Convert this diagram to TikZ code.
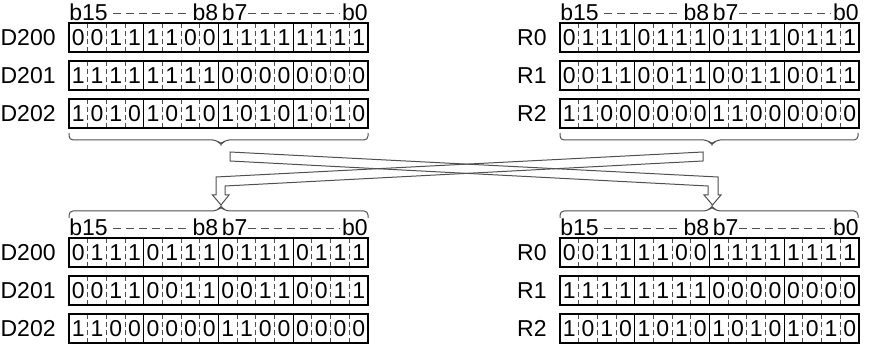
\documentclass[tikz,border=0pt]{standalone}
\usepackage{fontspec}
\setmainfont{Liberation Sans}
\usetikzlibrary{calc}
\definecolor{wordgray}{RGB}{80,80,80}
\tikzset{
  regbox/.style={draw, line width=0.7pt},
  grpsep/.style={line width=0.5pt},
  bitsep/.style={wordgray, line width=0.45pt, dash pattern=on 2.5pt off 1.5pt},
  bitval/.style={inner sep=0pt, font=\fontsize{11.5}{13}\selectfont},
  regname/.style={inner sep=0pt, font=\fontsize{11.5}{13}\selectfont},
  hdr/.style={inner sep=0pt, font=\fontsize{11.5}{13}\selectfont},
  hdrdash/.style={wordgray, line width=0.45pt, dash pattern=on 4pt off 2.5pt},
  brace/.style={wordgray, line width=0.5pt, rounded corners=2pt},
  hollow/.style={wordgray, line width=0.5pt, line join=miter}
}
\def\cellw{18.6875}
% one 16-bit word: name, left x, top y, label, bits
\newcommand{\wordrow}[5]{%
  \node[regname, anchor=east] (#1) at ({#2-13},{#3+14.5}) {#4};
  \foreach \k in {1,2,3,5,6,7,9,10,11,13,14,15}
    \draw[bitsep] ({#2+\k*\cellw},#3) -- ++(0,29);
  \foreach \k in {4,8,12}
    \draw[grpsep] ({#2+\k*\cellw},#3) -- ++(0,29);
  \draw[regbox] (#2,#3) rectangle ++(299,29);
  \foreach \b [count=\k from 0] in {#5}
    \node[bitval] (#1-\k) at ({#2+(\k+0.5)*\cellw},{#3+15}) {\b};
}
% bit numbers above a word: prefix, left x, baseline y
\newcommand{\bithead}[3]{%
  \node[hdr, anchor=base west] (#1-b15) at (#2,#3) {b15};
  \node[hdr, anchor=base east] (#1-b8) at ({#2+149.5},#3) {b8};
  \node[hdr, anchor=base west] (#1-b7) at ({#2+152.5},#3) {b7};
  \node[hdr, anchor=base east] (#1-b0) at ({#2+299},#3) {b0};
  \draw[hdrdash] ($(#1-b15.base east)+(5,-8)$) -- ($(#1-b8.base west)+(-2,-8)$);
  \draw[hdrdash] ($(#1-b7.base east)+(0,-8)$) -- ($(#1-b0.base west)+(-2,-8)$);
}

\begin{document}
\begin{tikzpicture}[x=0.5pt, y=-0.5pt]
  \useasboundingbox (0,0) rectangle (869,352);

  % Before: D200-D202
  \bithead{tl}{69}{21}
  \wordrow{tlA}{69}{23}{D200}{0,0,1,1,1,1,0,0,1,1,1,1,1,1,1,1}
  \wordrow{tlB}{69}{61}{D201}{1,1,1,1,1,1,1,1,0,0,0,0,0,0,0,0}
  \wordrow{tlC}{69}{99}{D202}{1,0,1,0,1,0,1,0,1,0,1,0,1,0,1,0}

  % Before: R0-R2
  \bithead{tr}{560}{21}
  \wordrow{trA}{560}{23}{R0}{0,1,1,1,0,1,1,1,0,1,1,1,0,1,1,1}
  \wordrow{trB}{560}{61}{R1}{0,0,1,1,0,0,1,1,0,0,1,1,0,0,1,1}
  \wordrow{trC}{560}{99}{R2}{1,1,0,0,0,0,0,0,1,1,0,0,0,0,0,0}

  % Braces under the upper blocks
  \draw[brace] (69,133) -- (69,140) -- (217,140) -- (221,145) -- (225,140) -- (368,140) -- (368,133);
  \draw[brace] (560,133) -- (560,140) -- (708,140) -- (712,145) -- (716,140) -- (858,140) -- (858,133);

  % Exchange arrows
  \draw[hollow] (230,152) -- (718,177) -- (718,195) -- (721,195) -- (712.5,205)
    -- (704,195) -- (708,195) -- (708,186) -- (230,161) -- cycle;
  \draw[hollow] (703,152) -- (216,177) -- (216,195) -- (212.5,195) -- (221,205)
    -- (229,195) -- (225,195) -- (225,186) -- (703,161) -- cycle;

  % Braces over the lower blocks
  \draw[brace] (69,218) -- (69,211) -- (217,211) -- (221,206) -- (225,211) -- (368,211) -- (368,218);
  \draw[brace] (560,218) -- (560,211) -- (708,211) -- (712,206) -- (716,211) -- (858,211) -- (858,218);

  % After: D200-D202
  \bithead{bl}{69}{236}
  \wordrow{blA}{69}{238}{D200}{0,1,1,1,0,1,1,1,0,1,1,1,0,1,1,1}
  \wordrow{blB}{69}{276}{D201}{0,0,1,1,0,0,1,1,0,0,1,1,0,0,1,1}
  \wordrow{blC}{69}{314}{D202}{1,1,0,0,0,0,0,0,1,1,0,0,0,0,0,0}

  % After: R0-R2
  \bithead{br}{560}{236}
  \wordrow{brA}{560}{238}{R0}{0,0,1,1,1,1,0,0,1,1,1,1,1,1,1,1}
  \wordrow{brB}{560}{276}{R1}{1,1,1,1,1,1,1,1,0,0,0,0,0,0,0,0}
  \wordrow{brC}{560}{314}{R2}{1,0,1,0,1,0,1,0,1,0,1,0,1,0,1,0}

\end{tikzpicture}
\end{document}
